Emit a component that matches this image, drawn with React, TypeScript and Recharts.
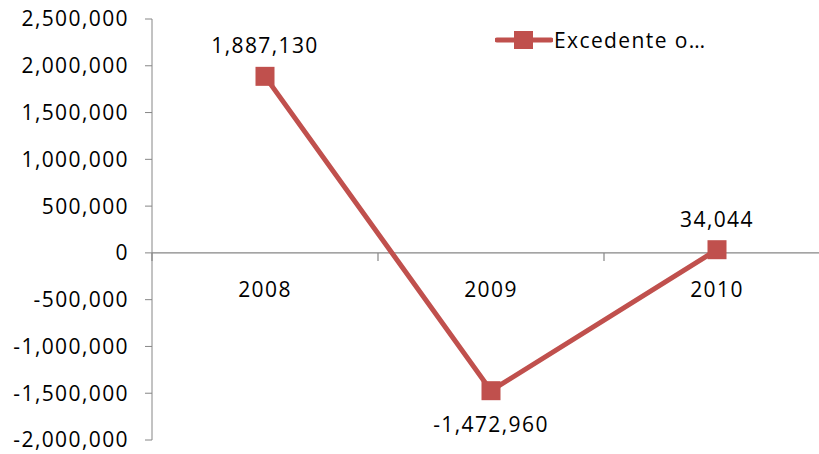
import { Legend, Line, LineChart, LabelList, ReferenceDot, ReferenceLine, XAxis, YAxis } from 'recharts'

const years = ['2008', '2009', '2010']
const excedente = [1887130, -1472960, 34044]
const yTicks = [-2000000, -1500000, -1000000, -500000, 0, 500000, 1000000, 1500000, 2000000, 2500000]
const boundaries = [0, 1, 2, 3]
const seriesName = 'Excedente o…'

const RED = '#C0504D'
const GREY = '#868686'
const FONT = '"Open Sans", sans-serif'
const FS = 21
const LS = 1.4

const data = years.map((year, i) => ({ x: i + 0.5, year, value: excedente[i] }))

const fmt = (v: number) => v.toLocaleString('en-US')

const SquareDot = (props: any) => {
  const { cx, cy } = props
  if (cx == null || cy == null) return null
  return <rect x={cx - 9.5} y={cy - 9.5} width={19} height={19} fill={RED} />
}

const ValueLabel = (props: any) => {
  const { x, y, value } = props
  const below = value < 0
  return (
    <text x={x} y={below ? y + 33 : y - 31} textAnchor="middle" dominantBaseline="central"
      fontFamily={FONT} fontSize={FS} letterSpacing={LS} fill="#000">
      {fmt(value)}
    </text>
  )
}

const LegendBox = () => (
  <div style={{ display: 'flex', alignItems: 'center', fontFamily: FONT, fontSize: FS, letterSpacing: LS, color: '#000' }}>
    <svg width={58} height={20}>
      <line x1={2} y1={10} x2={56} y2={10} stroke={RED} strokeWidth={5} strokeLinecap="round" />
      <rect x={19} y={1} width={19} height={18} fill={RED} />
    </svg>
    <span style={{ marginLeft: 1, whiteSpace: 'nowrap' }}>{seriesName}</span>
  </div>
)

export default function App() {
  return (
    <div style={{ position: 'absolute', top: 0, left: 8, width: 811, height: 454, overflow: 'hidden' }}>
      <LineChart width={822} height={454} data={data} margin={{ top: 19, right: 0, bottom: 14, left: 0 }}>
        <XAxis type="number" dataKey="x" domain={[0, 3]} hide />
        <YAxis
          type="number"
          domain={[-2000000, 2500000]}
          ticks={yTicks}
          interval={0}
          width={144}
          tickFormatter={fmt}
          stroke={GREY}
          tickSize={7}
          tickMargin={16}
          tick={{ fill: '#000', fontFamily: FONT, fontSize: FS, letterSpacing: LS }}
        />
        <ReferenceLine y={0} stroke={GREY} strokeWidth={1.2} />
        {boundaries.map((b) => (
          <ReferenceDot key={'b' + b} x={b} y={0} r={0}
            shape={(p: any) => <line x1={p.cx} y1={p.cy} x2={p.cx} y2={p.cy + 8} stroke={GREY} strokeWidth={1.2} />} />
        ))}
        {data.map((d) => (
          <ReferenceDot key={d.year} x={d.x} y={0} r={0}
            shape={(p: any) => (
              <text x={p.cx} y={p.cy + 36} textAnchor="middle" dominantBaseline="central"
                fontFamily={FONT} fontSize={FS} letterSpacing={LS} fill="#000">{d.year}</text>
            )} />
        ))}
        <Legend
          layout="horizontal"
          verticalAlign="middle"
          content={<LegendBox />}
          wrapperStyle={{ position: 'absolute', top: 26, left: 487, width: 280 }}
        />
        <Line
          type="linear"
          dataKey="value"
          name={seriesName}
          stroke={RED}
          strokeWidth={5}
          dot={<SquareDot />}
          activeDot={false}
          isAnimationActive={false}
        >
          <LabelList dataKey="value" content={<ValueLabel />} />
        </Line>
      </LineChart>
    </div>
  )
}
